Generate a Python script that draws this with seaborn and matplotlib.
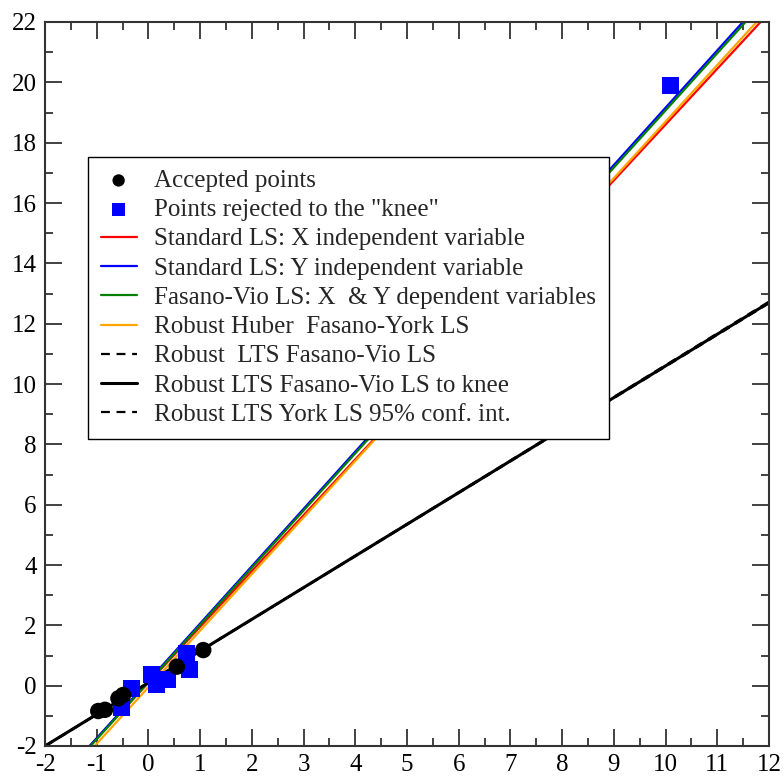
import numpy as np
import pandas as pd
import matplotlib
matplotlib.use("Agg")
import matplotlib.pyplot as plt
from matplotlib.ticker import MultipleLocator
import seaborn as sns

# ---- data ----
acc_x = [-0.97, -0.84, -0.58, -0.49, 0.55, 1.06]
acc_y = [-0.84, -0.80, -0.42, -0.31, 0.63, 1.18]

rej_x = [-0.52, -0.32, 0.06, 0.16, 0.37, 0.74, 0.785, 10.09]
rej_y = [-0.73, -0.085, 0.38, 0.05, 0.19, 1.07, 0.545, 19.91]

fit_labels = [
    "Standard LS: X independent variable",
    "Standard LS: Y independent variable",
    "Fasano-Vio LS: X  & Y dependent variables",
    "Robust Huber  Fasano-York LS",
    "Robust  LTS Fasano-Vio LS",
    "Robust LTS Fasano-Vio LS to knee",
    "Robust LTS York LS 95% conf. int.",
]
fit_slopes = [1.85, 1.90, 1.895, 1.875, 1.048, 1.05, 1.053]
fit_intercepts = [0.10, 0.16, 0.12, -0.05, 0.10, 0.10, 0.095]
fit_colors = ["#ff0000", "#0000ff", "#008000", "#ffa500", "black", "black", "black"]
fit_styles = ["-", "-", "-", "-", (0, (4, 3)), "-", (0, (4, 3))]
fit_widths = [1.6, 1.6, 1.6, 1.6, 1.6, 2.2, 1.6]

x_ticks = list(range(-2, 13))
y_ticks = list(range(-2, 23, 2))

# ---- style ----
sns.set_style("ticks")
plt.rcParams["font.family"] = ["Liberation Serif", "DejaVu Serif"]
plt.rcParams["axes.linewidth"] = 1.5
plt.rcParams["axes.unicode_minus"] = False

fig = plt.figure(figsize=(7.84, 7.76), dpi=100)
ax = fig.add_axes([45 / 784, 1 - 746 / 776, 724 / 784, 724 / 776])

xs = np.array([-2.0, 12.0])
for i in range(len(fit_labels)):
    df = pd.DataFrame({"x": xs, "y": fit_slopes[i] * xs + fit_intercepts[i]})
    sns.lineplot(data=df, x="x", y="y", ax=ax, color=fit_colors[i],
                 linewidth=fit_widths[i], linestyle=fit_styles[i],
                 label=fit_labels[i], legend=False, zorder=2)

sns.scatterplot(x=rej_x, y=rej_y, ax=ax, marker="s", s=150, color="#0000ff",
                edgecolor="none", label='Points rejected to the "knee"',
                legend=False, zorder=3)
sns.scatterplot(x=acc_x, y=acc_y, ax=ax, marker="o", s=140, color="black",
                edgecolor="none", label="Accepted points", legend=False, zorder=4)

ax.set_xlim(-2, 12)
ax.set_ylim(-2, 22)
ax.set_xlabel("")
ax.set_ylabel("")
ax.set_xticks(x_ticks)
ax.set_yticks(y_ticks)
ax.xaxis.set_minor_locator(MultipleLocator(0.5))
ax.yaxis.set_minor_locator(MultipleLocator(1))
ax.tick_params(which="both", direction="in", top=True, right=True,
               labelsize=18, width=1.3, colors="#333333", labelcolor="black")
ax.tick_params(which="major", length=12.5, pad=6)
ax.tick_params(which="minor", length=6)
for sp in ax.spines.values():
    sp.set_visible(True)
    sp.set_color("#333333")

handles, labels = ax.get_legend_handles_labels()
hmap = dict(zip(labels, handles))
leg_order = ["Accepted points", 'Points rejected to the "knee"'] + fit_labels
leg = ax.legend([hmap[l] for l in leg_order], leg_order,
                loc="upper left", bbox_to_anchor=(43 / 724, 1 - 135 / 724),
                borderaxespad=0, fontsize=18, frameon=True, fancybox=False,
                edgecolor="black", framealpha=1, handlelength=1.45,
                handletextpad=0.7, labelspacing=0.27, borderpad=0.5,
                markerscale=0.75)
leg.get_frame().set_linewidth(1.0)

fig.savefig("out.png", dpi=100)
